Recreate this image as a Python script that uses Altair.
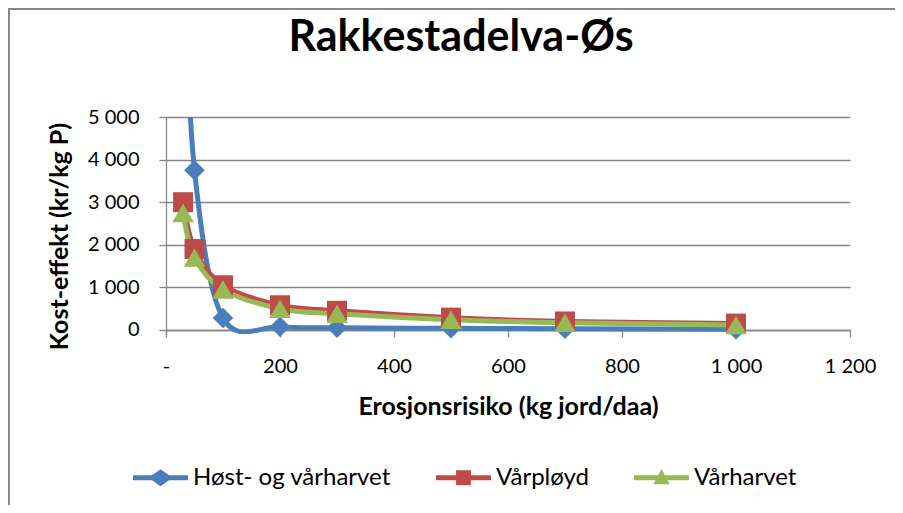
import altair as alt
import pandas as pd

# ---- data ----
erosjon = [30, 50, 100, 200, 300, 500, 700, 1000]
host_og_varharvet = [9000, 3750, 280, 75, 50, 40, 30, 20]
varployd = [3000, 1900, 1050, 580, 450, 290, 200, 150]
varharvet = [2750, 1700, 950, 500, 380, 240, 170, 120]
series_names = ["Høst- og vårharvet", "Vårpløyd", "Vårharvet"]
series_values = [host_og_varharvet, varployd, varharvet]
colors = ["#4A7EBB", "#BE4B48", "#98B954"]
marker_shapes = ["diamond", "square", "triangle-up"]
marker_sizes = [420, 400, 460]
x_ticks = [0, 200, 400, 600, 800, 1000, 1200]
y_ticks = [0, 1000, 2000, 3000, 4000, 5000]

rows = []
for name, vals in zip(series_names, series_values):
    for xv, yv in zip(erosjon, vals):
        rows.append({"x": xv, "y": yv, "serie": name})
df = pd.DataFrame(rows)

FONT = "Lato"
GRAY = "#868686"
W = 684
H = 217          # plot height incl. 4px strip below zero so low lines are not cut
Y_MIN = -94      # ~4px below zero

# legend symbols: line + marker (unit coords, scaled by sqrt(size)/2)
legend_paths = [
    "M-1,-0.09L-0.31,-0.09L0,-0.31L0.31,-0.09L1,-0.09L1,0.09L0.31,0.09L0,0.31L-0.31,0.09L-1,0.09Z",
    "M-1,-0.09L-0.27,-0.09L-0.27,-0.27L0.27,-0.27L0.27,-0.09L1,-0.09L1,0.09L0.27,0.09L0.27,0.27L-0.27,0.27L-0.27,0.09L-1,0.09Z",
    "M-1,-0.09L-0.12,-0.09L0,-0.32L0.12,-0.09L1,-0.09L1,0.09L0.22,0.09L0.3,0.24L-0.3,0.24L-0.22,0.09L-1,0.09Z",
]

x_enc = alt.X(
    "x:Q",
    scale=alt.Scale(domain=[0, 1200], nice=False, zero=False),
    axis=alt.Axis(
        values=x_ticks,
        grid=False, offset=-4,
        title="Erosjonsrisiko (kg jord/daa)",
        titleFont=FONT, titleFontSize=25, titleFontWeight="bold", titleColor="black",
        titleX=W / 2, titleY=84, titleBaseline="alphabetic", titleAlign="center",
        labelFont=FONT, labelFontSize=20, labelColor="black",
        labelBaseline="alphabetic", labelPadding=35, tickSize=7,
        labelExpr="datum.value == 0 ? '-' : replace(format(datum.value, ','), ',', ' ')",
        labelFlush=False, labelOverlap=False,
    ),
)
y_enc = alt.Y(
    "y:Q",
    scale=alt.Scale(domain=[Y_MIN, 5000], nice=False, zero=False),
    axis=alt.Axis(
        values=y_ticks,
        grid=True,
        title="Kost-effekt (kr/kg P)",
        titleFont=FONT, titleFontSize=25, titleFontWeight="bold", titleColor="black",
        titleX=-99, titleY=119, titleBaseline="alphabetic", titleAlign="center", titleAngle=270,
        labelFont=FONT, labelFontSize=20, labelColor="black",
        labelPadding=20, tickSize=7,
        labelExpr="replace(format(datum.value, ','), ',', ' ')",
        labelFlush=False, labelOverlap=False,
    ),
)

color_scale = alt.Scale(domain=series_names, range=colors)

legend_def = alt.Legend(
    title=None, orient="none", legendX=-33, legendY=333, direction="horizontal",
    columns=3, symbolSize=3025, symbolStrokeWidth=0,
    labelFont=FONT, labelFontSize=24, labelColor="black", labelOffset=5,
    labelLimit=400, columnPadding=45, symbolOpacity=1,
)
# invisible layer that only carries the legend (drawn first so its legend wins)
legend_layer = alt.Chart(df).mark_point(filled=True, opacity=0, size=3025, clip=True).encode(
    x=x_enc, y=y_enc,
    color=alt.Color("serie:N", scale=color_scale, legend=legend_def),
    shape=alt.Shape("serie:N", scale=alt.Scale(domain=series_names, range=legend_paths), legend=legend_def),
)

lines = alt.Chart(df).mark_line(interpolate="cardinal", strokeWidth=5, clip=True).encode(
    x="x:Q", y="y:Q",
    color=alt.Color("serie:N", scale=color_scale, legend=None),
)

point_layers = []
for name, col, shp, sz in zip(series_names, colors, marker_shapes, marker_sizes):
    point_layers.append(
        alt.Chart(df)
        .transform_filter(alt.datum.serie == name)
        .transform_filter(alt.datum.y <= 5000)
        .mark_point(shape=shp, size=sz, filled=True, color=col, opacity=1)
        .encode(x="x:Q", y="y:Q")
    )

border_top = alt.Chart(df).mark_rule(color=GRAY, strokeWidth=1.5).encode(
    x=alt.value(-158), x2=alt.value(W + 45), y=alt.value(-108)
)
border_left = alt.Chart(df).mark_rule(color=GRAY, strokeWidth=1.5).encode(
    x=alt.value(-157), y=alt.value(-108), y2=alt.value(H + 180)
)

chart = alt.layer(legend_layer, lines, *point_layers, border_top, border_left).properties(
    width=W, height=H,
    title=alt.TitleParams(
        "Rakkestadelva-Øs", font=FONT, fontSize=43, fontWeight="bold", color="black",
        anchor="middle", dx=-47, offset=-86, baseline="alphabetic",
    ),
    autosize=alt.AutoSizeParams(type="none"),
    padding={"left": 158, "top": 109, "right": 45, "bottom": 171},
).configure_view(stroke=None).configure_axis(
    gridColor=GRAY, gridWidth=1.3, domainColor=GRAY, domainWidth=1.3,
    tickColor=GRAY, tickWidth=1.3,
)

chart.save("out.html", embed_options={"renderer": "svg", "actions": False})
